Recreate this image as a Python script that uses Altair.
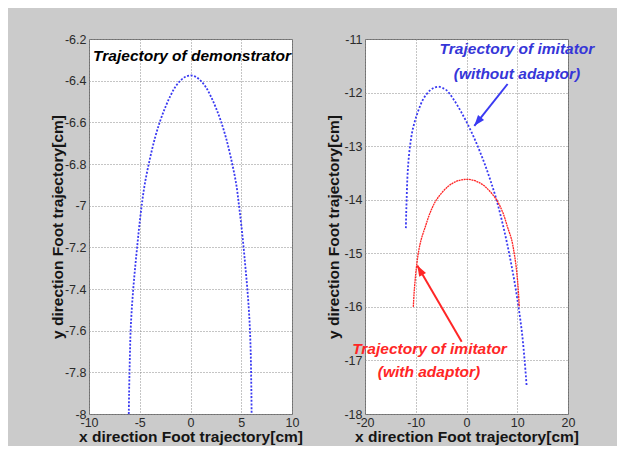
import altair as alt
import pandas as pd

# ---------------- data ----------------
# Left panel: trajectory of demonstrator
demo_x = [-6.08, -6.05, -6.01, -5.96, -5.9, -5.79, -5.64, -5.46, -5.26, -5.05, -4.81,
          -4.5, -4.0, -3.5, -3.0, -2.5, -2.0, -1.5, -1.0, -0.5, 0.0,
          0.5, 1.0, 1.5, 2.0, 2.5, 3.0, 3.5, 4.0, 4.5, 4.78,
          5.02, 5.23, 5.42, 5.6, 5.75, 5.86, 5.93, 5.97, 6.0, 6.02]
demo_y = [-8.0, -7.9, -7.8, -7.7, -7.6, -7.5, -7.4, -7.3, -7.2, -7.1, -7.0,
          -6.895, -6.775, -6.675, -6.595, -6.53, -6.475, -6.43, -6.4, -6.381, -6.375,
          -6.381, -6.4, -6.43, -6.475, -6.53, -6.595, -6.675, -6.775, -6.895, -7.0,
          -7.1, -7.2, -7.3, -7.4, -7.5, -7.6, -7.7, -7.8, -7.9, -8.0]

# Right panel: imitator without adaptor (blue)
imit_x = [-11.95, -11.88, -11.8, -11.66, -11.46, -11.13, -10.6, -9.62, -8.51, -7.2,
          -6.4, -5.6, -4.8, -3.9, -2.6, -1.0, 0.75, 2.2, 3.5, 4.65,
          5.9, 7.25, 8.4, 9.4, 10.25, 10.95, 11.45, 11.86]
imit_y = [-14.53, -14.25, -14.0, -13.62, -13.31, -13.0, -12.69, -12.37, -12.12, -11.96,
          -11.91, -11.89, -11.91, -11.96, -12.12, -12.37, -12.69, -13.0, -13.31, -13.62,
          -14.0, -14.5, -15.0, -15.5, -16.0, -16.5, -17.0, -17.49]

# Right panel: imitator with adaptor (red)
adapt_x = [-10.48, -10.33, -10.12, -9.85, -9.5, -8.95, -8.1, -7.2, -5.9, -3.6, -1.8, 0.0,
           1.8, 3.6, 5.9, 7.2, 8.05, 8.9, 9.4, 9.78, 10.05, 10.25, 10.4]
adapt_y = [-16.0, -15.75, -15.5, -15.25, -15.0, -14.75, -14.5, -14.25, -14.0, -13.75, -13.65, -13.62,
           -13.65, -13.75, -14.0, -14.25, -14.5, -14.75, -15.0, -15.25, -15.5, -15.75, -16.0]

# Annotations (data coordinates)
demo_label = ["Trajectory of demonstrator"]
demo_label_x = [0.15]
demo_label_y = [-6.28]

imit_label = ["Trajectory of imitator", "(without adaptor)"]
imit_label_x = [9.95, 9.95]
imit_label_y = [-11.19, -11.66]

adapt_label = ["Trajectory of imitator", "(with adaptor)"]
adapt_label_x = [-7.29, -7.39]
adapt_label_y = [-16.79, -17.22]

# Arrows: tail -> tip
imit_arrow = {"x": [8.1], "y": [-11.84], "x2": [1.54], "y2": [-12.62]}
adapt_arrow = {"x": [-0.95], "y": [-16.65], "x2": [-9.7], "y2": [-15.23]}

left_x_ticks = [-10, -5, 0, 5, 10]
left_y_ticks = [-6.2, -6.4, -6.6, -6.8, -7.0, -7.2, -7.4, -7.6, -7.8, -8.0]
right_x_ticks = [-20, -10, 0, 10, 20]
right_y_ticks = [-11, -12, -13, -14, -15, -16, -17, -18]

# ---------------- styling ----------------
FONT = "Liberation Sans"
BLUE = "#3a3af2"
BLUE_TXT = "#3636d8"
RED = "#ff2626"
XTITLE = "x direction Foot trajectory[cm]"
YTITLE = "y direction Foot trajectory[cm]"
LABEL_EXPR = "(datum.value < 0 ? '-' : '') + format(abs(datum.value), '~g')"
ARROW = "M0,0L-0.4,1.1L0.4,1.1Z"

demo_df = pd.DataFrame({"x": demo_x, "y": demo_y, "o": range(len(demo_x))})
imit_df = pd.DataFrame({"x": imit_x, "y": imit_y, "o": range(len(imit_x))})
adapt_df = pd.DataFrame({"x": adapt_x, "y": adapt_y, "o": range(len(adapt_x))})


def xenc(domain, ticks):
    return alt.X("x:Q", scale=alt.Scale(domain=domain, nice=False, zero=False),
                 axis=alt.Axis(values=ticks, title=XTITLE, labelExpr=LABEL_EXPR))


def yenc(domain, ticks):
    return alt.Y("y:Q", scale=alt.Scale(domain=domain, nice=False, zero=False),
                 axis=alt.Axis(values=ticks, title=YTITLE, labelExpr=LABEL_EXPR))


def curve(df, color, dash, width, xd, xt, yd, yt):
    return alt.Chart(df).mark_line(
        color=color, strokeDash=dash, strokeWidth=width, interpolate="catmull-rom"
    ).encode(x=xenc(xd, xt), y=yenc(yd, yt), order="o:Q")


def labels(texts, xs, ys, color):
    df = pd.DataFrame({"t": texts, "x": xs, "y": ys})
    return alt.Chart(df).mark_text(
        font=FONT, fontSize=15.5, fontWeight="bold", fontStyle="italic",
        color=color, align="center", baseline="middle"
    ).encode(x="x:Q", y="y:Q", text="t:N")


def arrow(d, color, angle):
    df = pd.DataFrame(d)
    rule = alt.Chart(df).mark_rule(color=color, strokeWidth=2).encode(
        x="x:Q", y="y:Q", x2="x2:Q", y2="y2:Q")
    head = alt.Chart(df).mark_point(
        shape=ARROW, size=380, filled=True, color=color, opacity=1,
        angle=angle, strokeWidth=0
    ).encode(x="x2:Q", y="y2:Q")
    return rule + head


LXD, LYD = [-10, 10], [-8, -6.2]
RXD, RYD = [-20, 20], [-18, -11]

left = alt.layer(
    curve(demo_df, BLUE, [2, 1.6], 1.8, LXD, left_x_ticks, LYD, left_y_ticks),
    labels(demo_label, demo_label_x, demo_label_y, "#000000"),
).properties(width=203, height=375)

right = alt.layer(
    curve(imit_df, BLUE, [2, 1.8], 1.8, RXD, right_x_ticks, RYD, right_y_ticks),
    curve(adapt_df, RED, [2, 0.6], 1.3, RXD, right_x_ticks, RYD, right_y_ticks),
    arrow(imit_arrow, BLUE, 219),
    arrow(adapt_arrow, RED, 330),
    labels(imit_label, imit_label_x, imit_label_y, BLUE_TXT),
    labels(adapt_label, adapt_label_x, adapt_label_y, RED),
).properties(width=203, height=375)

chart = alt.hconcat(left, right, spacing=22).resolve_scale(
    x="independent", y="independent"
).properties(
    background="#cbcbcb",
    padding={"left": 41, "top": 24, "right": 22, "bottom": 0},
).configure_view(
    fill="#ffffff", stroke="#707070", strokeWidth=1
).configure_axis(
    labelFont=FONT, labelFontSize=12.5, labelColor="#2a2a2a",
    titleFont=FONT, titleFontSize=15.5, titleFontWeight="bold", titleColor="#151515",
    grid=True, gridColor="#8a8a8a", gridDash=[1, 2], gridWidth=1, gridOpacity=1,
    ticks=False, tickSize=0, domain=False, labelFlush=False,
).configure_axisY(
    minExtent=24, maxExtent=24, titlePadding=0, labelPadding=3,
).configure_axisX(
    titlePadding=1, labelPadding=2,
)

chart.save("out.html", embed_options={"renderer": "svg", "actions": False})
